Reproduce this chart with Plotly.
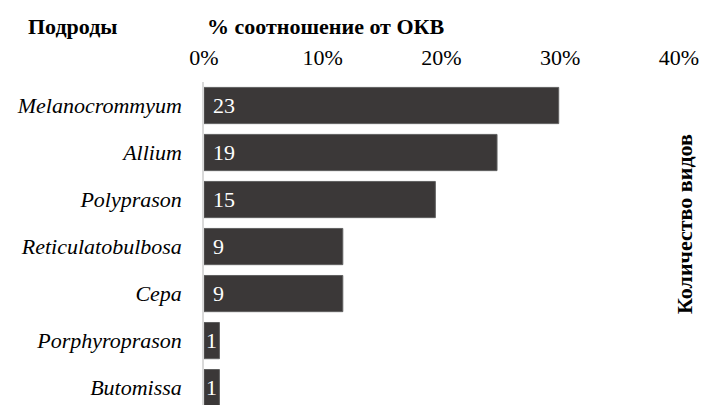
import plotly.graph_objects as go

subgenera = ["Melanocrommyum", "Allium", "Polyprason", "Reticulatobulbosa",
             "Cepa", "Porphyroprason", "Butomissa"]
species_counts = [23, 19, 15, 9, 9, 1, 1]
total_species = 77
percent_share = [c / total_species for c in species_counts]
x_tick_values = [0, 0.1, 0.2, 0.3, 0.4]
x_tick_labels = ["0%", "10%", "20%", "30%", "40%"]

FONT = "Liberation Serif"

W, H = 702, 405
ML, MR, MT, MB = 204, 23, 82, 0
pw, ph = W - ML - MR, H - MT - MB

fig = go.Figure()
fig.add_trace(go.Bar(
    y=subgenera,
    x=percent_share,
    orientation="h",
    marker=dict(color="#3b3838", line=dict(color="#606060", width=1)),
    width=0.77,
    hoverinfo="skip",
))

annotations = []
for s, c, p in zip(subgenera, species_counts, percent_share):
    narrow = p < 0.03
    annotations.append(dict(
        x=p / 2 if narrow else 0, y=s, xref="x", yref="y", text=str(c),
        showarrow=False, xanchor="center" if narrow else "left",
        yanchor="middle", xshift=0 if narrow else 7,
        font=dict(family=FONT, size=22, color="white"),
    ))

titles = [
    (73, 26, "<b>Подроды</b>", 0),
    (325, 26, "<b>% соотношение от ОКВ</b>", 0),
    (684, 224, "<b>Количество видов</b>", -90),
]
for px, py, txt, ang in titles:
    annotations.append(dict(
        x=(px - ML) / pw, y=(H - MB - py) / ph, xref="paper", yref="paper",
        text=txt, textangle=ang, showarrow=False,
        xanchor="center", yanchor="middle",
        font=dict(family=FONT, size=22, color="black"),
    ))

fig.update_layout(
    template="none",
    width=W, height=H,
    margin=dict(l=ML, r=MR, t=MT, b=MB, pad=0),
    paper_bgcolor="white", plot_bgcolor="white",
    showlegend=False,
    font=dict(family=FONT, size=22, color="black"),
    annotations=annotations,
    xaxis=dict(
        range=[0, 0.4], side="top", tickvals=x_tick_values, ticktext=x_tick_labels,
        showgrid=False, zeroline=False, showline=False, ticks="",
        ticklabelstandoff=12,
        tickfont=dict(family=FONT, size=22, color="black"),
        automargin=False, fixedrange=True,
    ),
    yaxis=dict(
        type="category", range=[6.37, -0.5],
        tickvals=subgenera, ticktext=["<i>" + s + "</i>" for s in subgenera],
        showgrid=False, zeroline=False, showline=True, linecolor="#d9d9d9",
        linewidth=1.5, ticks="", ticklabelstandoff=16,
        tickfont=dict(family=FONT, size=22, color="black"),
        automargin=False, fixedrange=True,
    ),
)

fig.write_html("out.html", config={"displayModeBar": False},
               post_script="document.body.style.margin='0';document.body.style.overflow='hidden';")
